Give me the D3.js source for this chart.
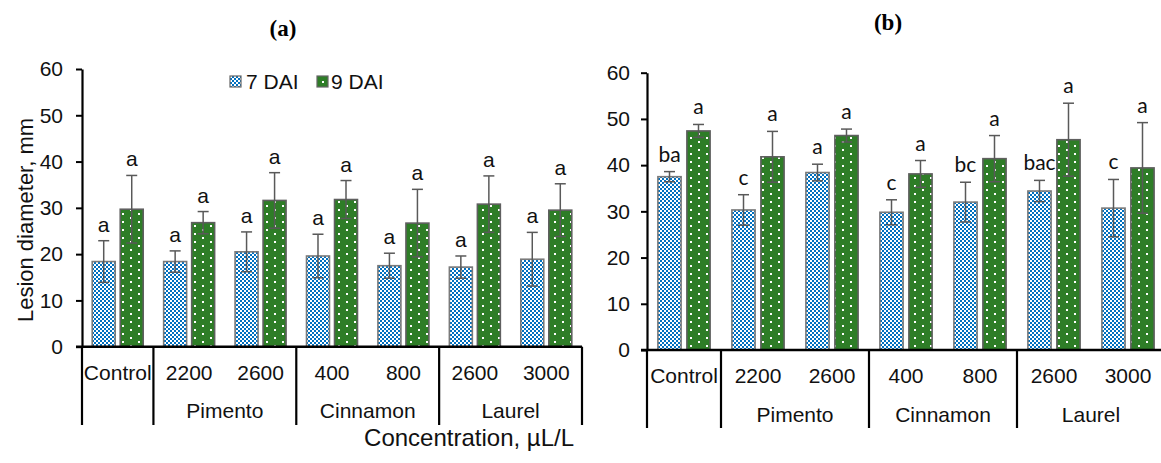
<!DOCTYPE html>
<html>
<head>
<meta charset="utf-8">
<script src="https://cdn.jsdelivr.net/npm/d3@7"></script>
<style>
  body { margin: 0; background: #fff; }
  svg { display: block; font-family: "Liberation Sans", Arial, sans-serif; }
</style>
</head>
<body>
<div id="chart"></div>
<script>
const categories = ['Control', '2200', '2600', '400', '800', '2600', '3000'];
const groupNames = ['', 'Pimento', 'Cinnamon', 'Laurel'];
const groupSizes = [1, 2, 2, 2];
const seriesNames = ['7 DAI', '9 DAI'];
const yTicks = [0, 10, 20, 30, 40, 50, 60];

// panel (a)
const a7 = [18.4, 18.4, 20.5, 19.6, 17.5, 17.2, 18.9];
const a7Err = [4.5, 2.3, 4.3, 4.7, 2.7, 2.4, 5.8];
const a9 = [29.7, 26.8, 31.6, 31.8, 26.7, 30.8, 29.5];
const a9Err = [7.3, 2.4, 6.0, 4.1, 7.3, 6.1, 5.7];
const a7Letters = ['a', 'a', 'a', 'a', 'a', 'a', 'a'];
const a9Letters = ['a', 'a', 'a', 'a', 'a', 'a', 'a'];

// panel (b)
const b7 = [37.5, 30.3, 38.4, 29.8, 32.0, 34.4, 30.7];
const b7Err = [1.1, 3.3, 1.8, 2.7, 4.3, 2.3, 6.2];
const b9 = [47.4, 41.8, 46.4, 38.1, 41.4, 45.5, 39.4];
const b9Err = [1.4, 5.5, 1.4, 2.9, 5.0, 7.9, 9.8];
const b7Letters = ['ba', 'c', 'a', 'c', 'bc', 'bac', 'c'];
const b9Letters = ['a', 'a', 'a', 'a', 'a', 'a', 'a'];

const W = 1161, H = 463;
const svg = d3.select('#chart').append('svg')
  .attr('width', W).attr('height', H);

const defs = svg.append('defs');
const checker = defs.append('pattern')
  .attr('id', 'checker').attr('patternUnits', 'userSpaceOnUse')
  .attr('width', 4).attr('height', 4);
checker.append('rect').attr('width', 4).attr('height', 4).attr('fill', '#fff');
checker.append('rect').attr('width', 2).attr('height', 2).attr('fill', '#0070c0');
checker.append('rect').attr('x', 2).attr('y', 2).attr('width', 2).attr('height', 2).attr('fill', '#0070c0');

const dots = defs.append('pattern')
  .attr('id', 'dots').attr('patternUnits', 'userSpaceOnUse')
  .attr('width', 16).attr('height', 8);
dots.append('rect').attr('width', 16).attr('height', 8).attr('fill', '#2e7d27');
dots.append('rect').attr('x', 2).attr('y', 1).attr('width', 2).attr('height', 2).attr('fill', '#fff');
dots.append('rect').attr('x', 10).attr('y', 5).attr('width', 2).attr('height', 2).attr('fill', '#fff');

const fills = ['url(#checker)', 'url(#dots)'];

function drawPanel(p) {
  const g = svg.append('g');
  const x0 = d3.scaleBand().domain(d3.range(categories.length))
    .range(p.xRange).padding(0);
  const x1 = d3.scaleBand().domain(seriesNames)
    .range([0, x0.bandwidth()])
    .paddingInner(p.inner).paddingOuter(p.outer);
  const y = d3.scaleLinear().domain([0, 60]).range(p.yRange);

  const series = [
    { name: seriesNames[0], vals: p.v7, err: p.e7, lab: p.l7 },
    { name: seriesNames[1], vals: p.v9, err: p.e9, lab: p.l9 }
  ];

  series.forEach((s, si) => {
    const rows = s.vals.map((v, i) => ({ i, v, e: s.err[i], l: s.lab[i] }));
    const sg = g.append('g');
    sg.selectAll('rect').data(rows).join('rect')
      .attr('x', d => x0(d.i) + x1(s.name))
      .attr('y', d => y(d.v))
      .attr('width', x1.bandwidth())
      .attr('height', d => y(0) - y(d.v))
      .attr('fill', fills[si])
      .attr('stroke', si === 0 ? '#7a7a7a' : '#5f5f5f')
      .attr('stroke-width', 1.6);

    const cx = d => x0(d.i) + x1(s.name) + x1.bandwidth() / 2;
    const eg = sg.selectAll('g.err').data(rows).join('g').attr('class', 'err')
      .attr('stroke', '#595959').attr('stroke-width', 1.5);
    eg.append('line')
      .attr('x1', cx).attr('x2', cx)
      .attr('y1', d => y(d.v + d.e)).attr('y2', d => y(d.v - d.e));
    eg.append('line')
      .attr('x1', d => cx(d) - 5.5).attr('x2', d => cx(d) + 5.5)
      .attr('y1', d => y(d.v + d.e)).attr('y2', d => y(d.v + d.e));
    eg.append('line')
      .attr('x1', d => cx(d) - 5.5).attr('x2', d => cx(d) + 5.5)
      .attr('y1', d => y(d.v - d.e)).attr('y2', d => y(d.v - d.e));

    sg.selectAll('text').data(rows).join('text')
      .attr('x', cx)
      .attr('y', d => y(d.v + d.e) - p.labGap)
      .attr('text-anchor', 'middle')
      .style('font-family', p.labFont)
      .style('font-size', p.labSize + 'px')
      .attr('fill', '#111')
      .text(d => d.l);
  });

  // y axis
  const yAxis = d3.axisLeft(y).tickValues(yTicks).tickSize(6)
    .tickPadding(p.tickPad).tickSizeOuter(0);
  const ya = g.append('g').attr('transform', `translate(${p.xRange[0]},0)`).call(yAxis);
  ya.select('.domain').attr('stroke', '#000').attr('stroke-width', 2.2);
  ya.selectAll('.tick line').attr('stroke', '#000').attr('stroke-width', 2);
  ya.selectAll('.tick text').style('font-size', '21px')
    .style('font-family', '"Liberation Sans", Arial, sans-serif').attr('fill', '#111');

  // x axis line
  g.append('line')
    .attr('x1', p.xRange[0] - 6).attr('x2', p.xRange[1])
    .attr('y1', y(0)).attr('y2', y(0))
    .attr('stroke', '#000').attr('stroke-width', 2.4);

  // category labels
  g.selectAll('text.cat').data(categories).join('text').attr('class', 'cat')
    .attr('x', (d, i) => x0(i) + x0.bandwidth() / 2)
    .attr('y', p.row1)
    .attr('text-anchor', 'middle')
    .style('font-size', '21px').attr('fill', '#111')
    .text(d => d);

  // group labels and dividers
  let start = 0;
  const bounds = [0];
  groupNames.forEach((name, gi) => {
    const end = start + groupSizes[gi];
    const gx = (x0(start) + x0(end - 1) + x0.bandwidth()) / 2;
    g.append('text')
      .attr('x', gx).attr('y', p.row2)
      .attr('text-anchor', 'middle')
      .style('font-size', '21px').attr('fill', '#111')
      .text(name);
    bounds.push(end);
    start = end;
  });
  bounds.forEach(b => {
    const bx = b < categories.length ? x0(b) : p.xRange[1];
    g.append('line')
      .attr('x1', bx).attr('x2', bx)
      .attr('y1', y(0)).attr('y2', p.divEnd)
      .attr('stroke', '#000').attr('stroke-width', 2.2);
  });
}

drawPanel({
  xRange: [82, 582], yRange: [346.7, 69],
  inner: 0.18, outer: 0.365,
  v7: a7, e7: a7Err, v9: a9, e9: a9Err, l7: a7Letters, l9: a9Letters,
  labGap: 9, labFont: '"Liberation Sans", Arial, sans-serif', labSize: 21,
  tickPad: 13, row1: 380, row2: 418, divEnd: 425
});

drawPanel({
  xRange: [647, 1165], yRange: [350, 72.7],
  inner: 0.2, outer: 0.376,
  v7: b7, e7: b7Err, v9: b9, e9: b9Err, l7: b7Letters, l9: b9Letters,
  labGap: 10, labFont: 'Lato, "Open Sans", sans-serif', labSize: 21,
  tickPad: 11, row1: 383, row2: 421.5, divEnd: 428
});

// legend (panel a)
const legend = svg.append('g');
[[230, 246], [317, 331]].forEach((pos, i) => {
  legend.append('rect')
    .attr('x', pos[0]).attr('y', 76).attr('width', 11).attr('height', 11)
    .attr('fill', fills[i]).attr('stroke', '#666').attr('stroke-width', 1.2);
  legend.append('text')
    .attr('x', pos[1]).attr('y', 89)
    .style('font-size', '21px').attr('fill', '#111')
    .text(seriesNames[i]);
});

// titles
svg.append('text').attr('x', 283).attr('y', 36).attr('text-anchor', 'middle')
  .style('font-family', '"Liberation Serif", "Times New Roman", serif')
  .style('font-weight', 'bold').style('font-size', '23px').text('(a)');
svg.append('text').attr('x', 888).attr('y', 30).attr('text-anchor', 'middle')
  .style('font-family', '"Liberation Serif", "Times New Roman", serif')
  .style('font-weight', 'bold').style('font-size', '23px').text('(b)');

// axis titles
svg.append('text')
  .attr('transform', 'translate(33,220) rotate(-90)')
  .attr('text-anchor', 'middle')
  .style('font-size', '22px').attr('fill', '#111')
  .text('Lesion diameter, mm');
svg.append('text')
  .attr('x', 574).attr('y', 446).attr('text-anchor', 'end')
  .style('font-size', '24px').attr('fill', '#111')
  .text('Concentration, µL/L');
</script>
</body>
</html>
